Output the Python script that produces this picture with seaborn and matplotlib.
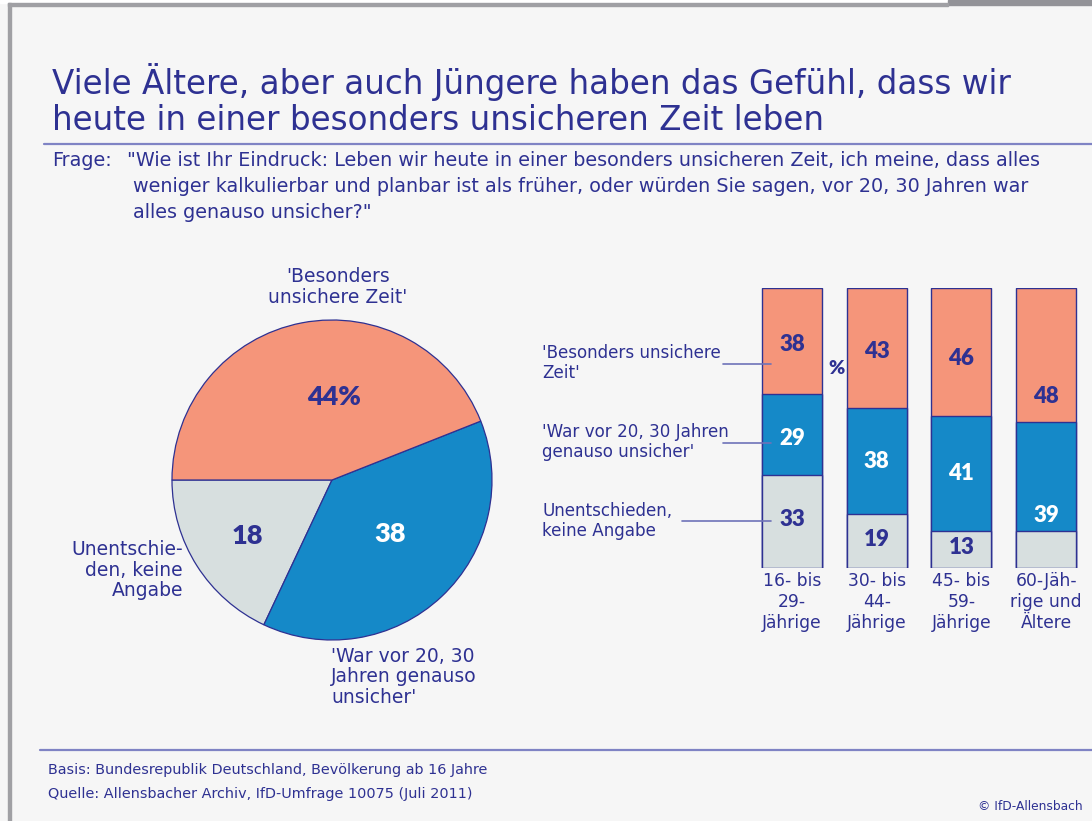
import matplotlib
matplotlib.use("Agg")
import matplotlib.pyplot as plt
import seaborn as sns
import pandas as pd
import numpy as np
from matplotlib.lines import Line2D
from matplotlib.patches import Rectangle
from matplotlib.font_manager import FontProperties

sns.set_theme(style="white")
plt.rcParams['font.family'] = ['DejaVu Sans']

# ---------------- data ----------------
pie_labels = ["Unentschieden, keine Angabe", "'War vor 20, 30 Jahren genauso unsicher'", "'Besonders unsichere Zeit'"]
pie_values = [18, 38, 44]

age_groups = ["16- bis\n29-\nJährige", "30- bis\n44-\nJährige", "45- bis\n59-\nJährige", "60-Jäh-\nrige und\nÄltere"]
besonders = [38, 43, 46, 48]
genauso = [29, 38, 41, 39]
unentschieden = [33, 19, 13, 13]
show_unentschieden = [True, True, True, False]

# ---------------- style ----------------
BG = "#f6f6f6"
NAVY = "#2e3192"
ORANGE = "#f5957a"
BLUE = "#1589c8"
GRAY = "#d7dfdf"
LINE = "#6e72b8"

def numfont(size):
    return FontProperties(family="Lato", weight="heavy", size=size)

W, H = 1092, 821
fig = plt.figure(figsize=(W / 100, H / 100), dpi=100)
fig.patch.set_facecolor(BG)

def fx(x):
    return x / W

def fy(y):
    return 1 - y / H

# frame
fig.add_artist(Rectangle((0, fy(3.5)), fx(948), 3.5 / H, transform=fig.transFigure, color="white", zorder=0))
fig.add_artist(Rectangle((fx(948), fy(5.5)), 1 - fx(948), 5.5 / H, transform=fig.transFigure, color="#939398", zorder=1))
fig.add_artist(Rectangle((fx(8), fy(6)), fx(948 - 8), 2.5 / H, transform=fig.transFigure, color="#a0a0a4", zorder=1))
fig.add_artist(Rectangle((fx(8), 0), 3 / W, fy(3.5), transform=fig.transFigure, color="#a0a0a4", zorder=1))

# title
t_fs = 23.5
fig.text(fx(52), fy(82), "Viele Ältere, aber auch Jüngere haben das Gefühl, dass wir",
         color=NAVY, fontsize=t_fs, va="center", ha="left")
fig.text(fx(52), fy(120), "heute in einer besonders unsicheren Zeit leben",
         color=NAVY, fontsize=t_fs, va="center", ha="left")
fig.add_artist(Line2D([fx(44), 1], [fy(144), fy(144)], color="#7f83c4", lw=1.6))

# question
q_fs = 13.8
fig.text(fx(52), fy(160), "Frage:", color=NAVY, fontsize=q_fs, va="center")
q_lines = ['"Wie ist Ihr Eindruck: Leben wir heute in einer besonders unsicheren Zeit, ich meine, dass alles',
           'weniger kalkulierbar und planbar ist als früher, oder würden Sie sagen, vor 20, 30 Jahren war',
           'alles genauso unsicher?"']
for i, line in enumerate(q_lines):
    fig.text(fx(127 if i == 0 else 133), fy(160 + 26 * i), line, color=NAVY, fontsize=q_fs, va="center")

# ---------------- pie ----------------
cx, cy, r = 332, 480, 160
pad = 170
ax_pie = fig.add_axes([fx(cx - pad), fy(cy + pad), 2 * pad / W, 2 * pad / H])
ax_pie.set_facecolor("none")
wedges, _ = ax_pie.pie(pie_values, colors=[GRAY, BLUE, ORANGE], startangle=180, counterclock=True,
                       radius=1.0, wedgeprops=dict(edgecolor=NAVY, linewidth=0.9))
lim = pad / r
ax_pie.set_xlim(-lim, lim)
ax_pie.set_ylim(-lim, lim)
ax_pie.set_aspect("equal")
ax_pie.axis("off")

pie_texts = [("18", NAVY, (-0.53, -0.35)), ("38", "white", (0.36, -0.34)), ("44%", NAVY, (0.01, 0.52))]
for (t, c, (x, y)) in pie_texts:
    ax_pie.text(x, y, t, color=c, ha="center", va="center", fontproperties=numfont(19.5))

pl_fs = 13.5
fig.text(fx(338), fy(287), "'Besonders\nunsichere Zeit'", color=NAVY, fontsize=pl_fs,
         ha="center", va="center", linespacing=1.08)
fig.text(fx(183), fy(570), "Unentschie-\nden, keine\nAngabe", color=NAVY, fontsize=pl_fs,
         ha="right", va="center", linespacing=1.08, multialignment="right")
fig.text(fx(331), fy(677), "'War vor 20, 30\nJahren genauso\nunsicher'", color=NAVY, fontsize=pl_fs,
         ha="left", va="center", linespacing=1.08)

# ---------------- stacked bars ----------------
step = 84.7
left = 792 - 0.5 * step
y_top, y_bot = 287.5, 567.5
ax_bar = fig.add_axes([fx(left), fy(y_bot), 4 * step / W, (y_bot - y_top) / H])
ax_bar.set_facecolor("none")

df = pd.DataFrame({
    "group": age_groups,
    "top": np.array(besonders) + np.array(genauso) + np.array(unentschieden),
    "mid": np.array(genauso) + np.array(unentschieden),
    "low": np.array(unentschieden),
})
bw = 0.71
for col, color in [("top", ORANGE), ("mid", BLUE), ("low", GRAY)]:
    sns.barplot(data=df, x="group", y=col, color=color, width=bw, ax=ax_bar,
                edgecolor=NAVY, linewidth=1.0, saturation=1)

ax_bar.set_xlim(-0.5, 3.5)
ax_bar.set_ylim(0, 100)
ax_bar.axis("off")

top_off = [-1.5, -1.2, -2.2, -15]
mid_off = [-1.5, 0, 0, -14]
for i in range(len(age_groups)):
    u, g, b = unentschieden[i], genauso[i], besonders[i]
    if show_unentschieden[i]:
        ax_bar.text(i, u / 2 + 0.5, str(u), color=NAVY, ha="center", va="center",
                    fontproperties=numfont(16))
    ax_bar.text(i, u + g / 2 + mid_off[i], str(g), color="white", ha="center", va="center",
                fontproperties=numfont(16))
    ax_bar.text(i, u + g + b / 2 + top_off[i], str(b), color=NAVY, ha="center", va="center",
                fontproperties=numfont(16))
    ax_bar.text(i, -1.6, age_groups[i], color=NAVY, fontsize=12.3, ha="center", va="top",
                linespacing=1.22)

ax_bar.text(0.52, 71, "%", color=NAVY, ha="center", va="center", fontproperties=numfont(14))

# labels with lines
bl_fs = 12.1
fig.text(fx(542), fy(363), "'Besonders unsichere\nZeit'", color=NAVY, fontsize=bl_fs, va="center",
         linespacing=1.15)
fig.text(fx(542), fy(442), "'War vor 20, 30 Jahren\ngenauso unsicher'", color=NAVY, fontsize=bl_fs,
         va="center", linespacing=1.15)
fig.text(fx(542), fy(521), "Unentschieden,\nkeine Angabe", color=NAVY, fontsize=bl_fs, va="center",
         linespacing=1.15)
for (x0, y0) in [(723, 364), (723, 443), (682, 521)]:
    fig.add_artist(Line2D([fx(x0), fx(771)], [fy(y0), fy(y0)], color=LINE, lw=1.2))

# footer
fig.add_artist(Line2D([fx(40), 1], [fy(750), fy(750)], color="#7f83c4", lw=1.6))
fig.text(fx(48), fy(770), "Basis: Bundesrepublik Deutschland, Bevölkerung ab 16 Jahre", color=NAVY,
         fontsize=10.4, va="center")
fig.text(fx(48), fy(794), "Quelle: Allensbacher Archiv, IfD-Umfrage 10075 (Juli 2011)", color=NAVY,
         fontsize=10.4, va="center")
fig.text(fx(1083), fy(806), "© IfD-Allensbach", color=NAVY, fontsize=8.8, va="center", ha="right")

fig.savefig("out.png", dpi=100, facecolor=BG)
